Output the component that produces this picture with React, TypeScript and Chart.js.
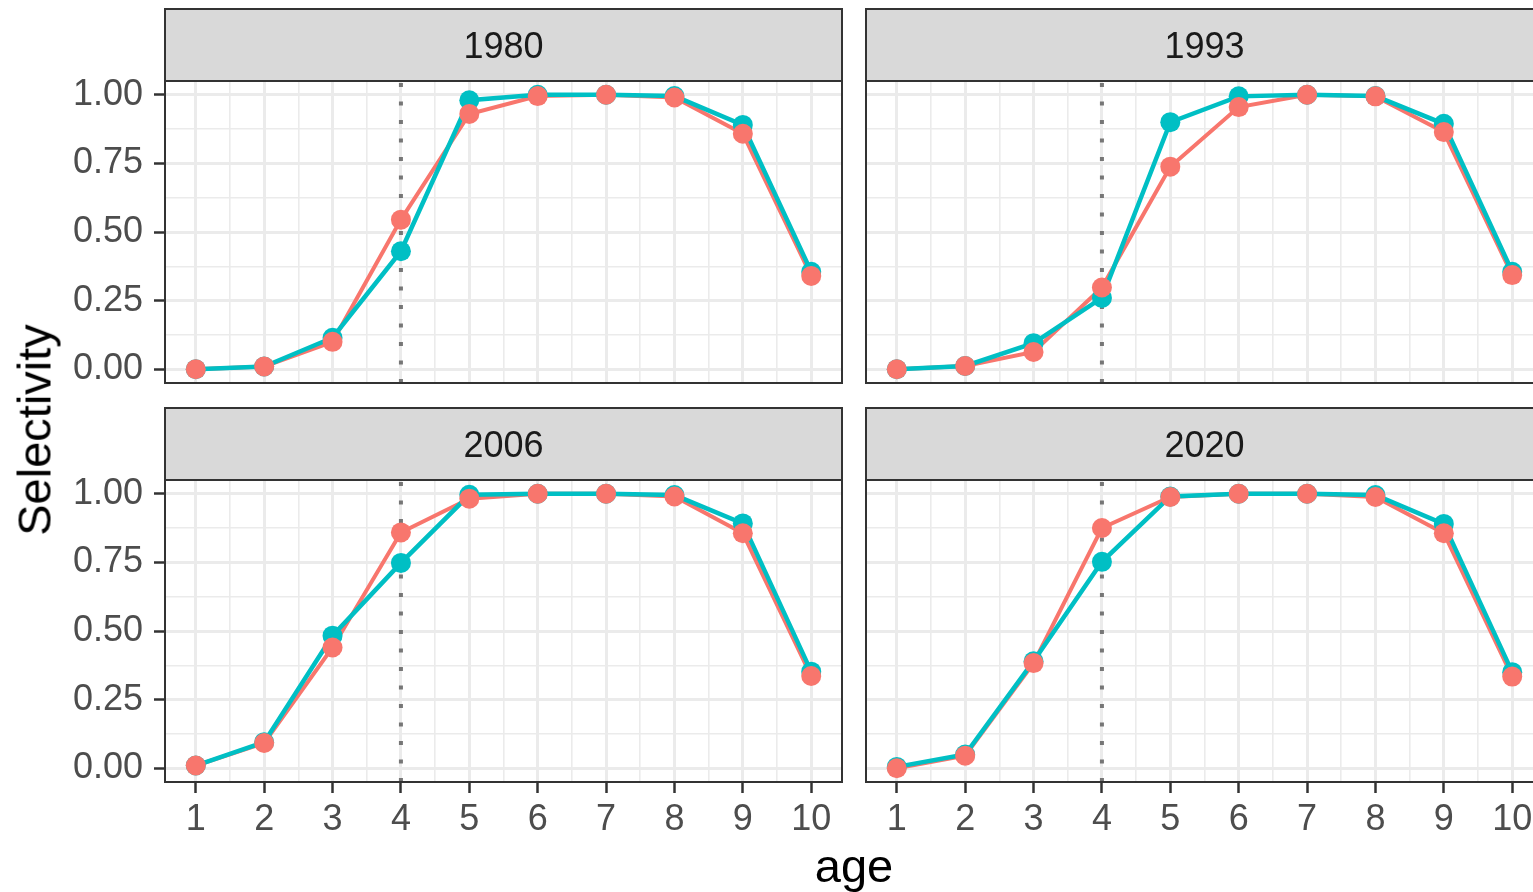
import React, { useEffect, useRef } from "react";
import { Chart, registerables } from "chart.js";

Chart.register(...registerables);

// ---------------- data ----------------
const ages = [1, 2, 3, 4, 5, 6, 7, 8, 9, 10];
const facetYears = ["1980", "1993", "2006", "2020"];

const red1980 = [0.0, 0.01, 0.1, 0.545, 0.93, 0.995, 1.0, 0.99, 0.858, 0.34];
const teal1980 = [0.0, 0.01, 0.115, 0.43, 0.98, 1.0, 1.0, 0.995, 0.89, 0.355];

const red1993 = [0.0, 0.012, 0.063, 0.298, 0.738, 0.955, 1.0, 0.994, 0.864, 0.343];
const teal1993 = [0.0, 0.012, 0.095, 0.26, 0.9, 0.994, 1.0, 0.995, 0.894, 0.355];

const red2006 = [0.01, 0.092, 0.44, 0.859, 0.982, 1.0, 1.0, 0.99, 0.856, 0.336];
const teal2006 = [0.01, 0.095, 0.483, 0.748, 0.996, 1.0, 1.0, 0.995, 0.892, 0.352];

const red2020 = [0.0, 0.046, 0.383, 0.875, 0.988, 1.0, 1.0, 0.988, 0.856, 0.334];
const teal2020 = [0.005, 0.05, 0.39, 0.752, 0.99, 1.0, 1.0, 0.995, 0.89, 0.35];

const refAge = 4;

const xMajorTicks = [1, 2, 3, 4, 5, 6, 7, 8, 9, 10];
const xMinorTicks = [1.5, 2.5, 3.5, 4.5, 5.5, 6.5, 7.5, 8.5, 9.5];
const yMajorTicks = [0, 0.25, 0.5, 0.75, 1];
const yMinorTicks = [0.125, 0.375, 0.625, 0.875];
const xLimits = [0.55, 10.45];
const yLimits = [-0.05, 1.05];

const yAxisTitle = "Selectivity";
const xAxisTitle = "age";

// ---------------- style ----------------
const RED = "#F8766D";
const TEAL = "#00BFC4";
const FONT = "'Liberation Sans', Arial, Helvetica, sans-serif";
const PLOT_W = 677;
const PLOT_H = 302;
const STRIP_H = 72;
const TOP_PAD = 74;

type PanelProps = {
  title: string;
  red: number[];
  teal: number[];
  left: number;
  top: number;
  col: number;
  row: number;
};

const isIn = (arr: number[], v: number) => arr.some((a) => Math.abs(a - v) < 1e-9);

function Panel({ title, red, teal, left, top, col, row }: PanelProps) {
  const ref = useRef<HTMLCanvasElement | null>(null);
  const padLeft = col === 0 ? 0 : 2;
  const yAxisW = col === 0 ? 165 : 0;
  const padRight = 3;
  const xAxisH = row === 1 ? 70 : 0;
  const padBottom = row === 1 ? 0 : 25;
  const width = padLeft + yAxisW + PLOT_W + padRight;
  const height = TOP_PAD + PLOT_H + xAxisH + padBottom;

  useEffect(() => {
    if (!ref.current) return;
    const xy = (vals: number[]) => ages.map((a, i) => ({ x: a, y: vals[i] }));
    const facetPlugin = {
      id: "facet",
      afterDraw(chart: any) {
        const { ctx, chartArea: a } = chart;
        const w = a.right - a.left;
        ctx.save();
        ctx.fillStyle = "#D9D9D9";
        ctx.fillRect(a.left, a.top - STRIP_H, w, STRIP_H);
        ctx.strokeStyle = "#333333";
        ctx.lineWidth = 2;
        ctx.strokeRect(a.left, a.top - STRIP_H, w, STRIP_H);
        ctx.fillStyle = "#1A1A1A";
        ctx.font = `36px ${FONT}`;
        ctx.textAlign = "center";
        ctx.textBaseline = "alphabetic";
        ctx.fillText(title, a.left + w / 2, a.top - STRIP_H + 48.5);
        ctx.strokeRect(a.left, a.top, w, a.bottom - a.top);
        ctx.restore();
      },
    };

    const chart = new Chart(ref.current, {
      type: "scatter",
      data: {
        datasets: [
          {
            label: "reference age",
            data: [
              { x: refAge, y: yLimits[0] },
              { x: refAge, y: yLimits[1] },
            ],
            showLine: true,
            borderColor: "#767676",
            borderWidth: 4,
            borderDash: [4, 14.5],
            borderCapStyle: "butt",
            pointRadius: 0,
            order: 5,
          },
          {
            label: "series 2 line",
            data: xy(red),
            showLine: true,
            borderColor: RED,
            borderWidth: 4,
            pointRadius: 0,
            order: 4,
          },
          {
            label: "series 1 line",
            data: xy(teal),
            showLine: true,
            borderColor: TEAL,
            borderWidth: 4.5,
            pointRadius: 0,
            order: 3,
          },
          {
            label: "series 1",
            data: xy(teal),
            showLine: false,
            pointRadius: 10,
            pointBorderWidth: 0,
            backgroundColor: TEAL,
            borderColor: TEAL,
            order: 2,
          },
          {
            label: "series 2",
            data: xy(red),
            showLine: false,
            pointRadius: 10,
            pointBorderWidth: 0,
            backgroundColor: RED,
            borderColor: RED,
            order: 1,
          },
        ],
      },
      options: {
        animation: false,
        responsive: false,
        events: [],
        layout: {
          autoPadding: false,
          padding: { left: padLeft, right: padRight, top: TOP_PAD, bottom: padBottom },
        },
        plugins: { legend: { display: false }, title: { display: false }, tooltip: { enabled: false } },
        scales: {
          x: {
            type: "linear",
            min: xLimits[0],
            max: xLimits[1],
            border: { display: false },
            afterBuildTicks: (s: any) => {
              s.ticks = [...xMajorTicks, ...xMinorTicks].sort((a, b) => a - b).map((v) => ({ value: v }));
            },
            afterFit: (s: any) => {
              s.height = xAxisH;
              s.paddingLeft = 0;
              s.paddingRight = 0;
            },
            grid: {
              color: "#EBEBEB",
              lineWidth: (c: any) => (isIn(xMajorTicks, c.tick.value) ? 3 : 1.6),
              drawTicks: row === 1,
              tickLength: 11,
              tickWidth: 2.5,
              tickColor: (c: any) => (isIn(xMajorTicks, c.tick.value) ? "#333333" : "rgba(0,0,0,0)"),
            },
            ticks: {
              display: row === 1,
              autoSkip: false,
              maxRotation: 0,
              padding: 5,
              color: "#4D4D4D",
              font: { family: FONT, size: 36 },
              callback: (v: any) => (isIn(xMajorTicks, Number(v)) ? String(v) : ""),
            },
          },
          y: {
            type: "linear",
            min: yLimits[0],
            max: yLimits[1],
            border: { display: false },
            afterBuildTicks: (s: any) => {
              s.ticks = [...yMajorTicks, ...yMinorTicks].sort((a, b) => a - b).map((v) => ({ value: v }));
            },
            afterFit: (s: any) => {
              s.width = yAxisW;
              s.paddingTop = 0;
              s.paddingBottom = 0;
            },
            grid: {
              color: "#EBEBEB",
              lineWidth: (c: any) => (isIn(yMajorTicks, c.tick.value) ? 3 : 1.6),
              drawTicks: col === 0,
              tickLength: 11,
              tickWidth: 2.5,
              tickColor: (c: any) => (isIn(yMajorTicks, c.tick.value) ? "#333333" : "rgba(0,0,0,0)"),
            },
            ticks: {
              display: col === 0,
              autoSkip: false,
              padding: 11,
              color: "#4D4D4D",
              font: { family: FONT, size: 36 },
              callback: (v: any) => (isIn(yMajorTicks, Number(v)) ? Number(v).toFixed(2) : ""),
            },
          },
        },
      },
      plugins: [facetPlugin],
    } as any);
    return () => chart.destroy();
  }, [title, red, teal]);

  return (
    <canvas
      ref={ref}
      width={width}
      height={height}
      style={{ position: "absolute", left, top, width, height }}
    />
  );
}

export default function App() {
  const panels = [
    { title: facetYears[0], red: red1980, teal: teal1980, col: 0, row: 0 },
    { title: facetYears[1], red: red1993, teal: teal1993, col: 1, row: 0 },
    { title: facetYears[2], red: red2006, teal: teal2006, col: 0, row: 1 },
    { title: facetYears[3], red: red2020, teal: teal2020, col: 1, row: 1 },
  ];
  const plotTops = [81, 480];
  return (
    <div
      style={{
        position: "absolute",
        left: 0,
        top: 0,
        width: 1533,
        height: 892,
        overflow: "hidden",
        background: "#FFFFFF",
        fontFamily: FONT,
      }}
    >
      {panels.map((p) => (
        <Panel
          key={p.title}
          title={p.title}
          red={p.red}
          teal={p.teal}
          col={p.col}
          row={p.row}
          left={p.col === 0 ? 0 : 864}
          top={plotTops[p.row] - TOP_PAD}
        />
      ))}
      <div
        style={{
          position: "absolute",
          left: 33.7,
          top: 430,
          transform: "translate(-50%, -50%) rotate(-90deg)",
          fontSize: 47,
          lineHeight: "47px",
          whiteSpace: "nowrap",
          color: "#000000",
        }}
      >
        {yAxisTitle}
      </div>
      <div
        style={{
          position: "absolute",
          left: 854,
          top: 842.2,
          transform: "translateX(-50%)",
          fontSize: 47,
          lineHeight: "47px",
          whiteSpace: "nowrap",
          color: "#000000",
        }}
      >
        {xAxisTitle}
      </div>
    </div>
  );
}
